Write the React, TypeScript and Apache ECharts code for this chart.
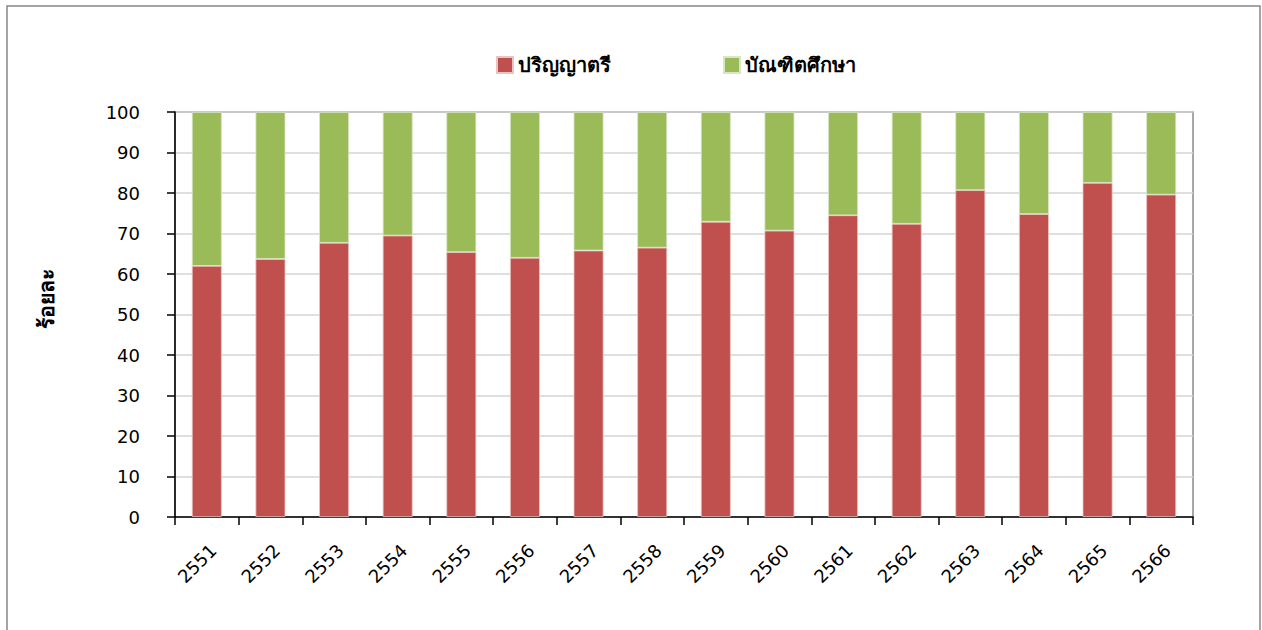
import React, { useEffect, useRef } from "react";
import * as echarts from "echarts";

const years = ["2551","2552","2553","2554","2555","2556","2557","2558","2559","2560","2561","2562","2563","2564","2565","2566"];
const bachelor = [62.0, 63.7, 67.7, 69.5, 65.4, 64.0, 65.8, 66.5, 72.9, 70.7, 74.5, 72.4, 80.7, 74.8, 82.5, 79.6];
const graduate = [38.0, 36.3, 32.3, 30.5, 34.6, 36.0, 34.2, 33.5, 27.1, 29.3, 25.5, 27.6, 19.3, 25.2, 17.5, 20.4];
const seriesNames = ["ปริญญาตรี", "บัณฑิตศึกษา"];
const yTicks = { min: 0, max: 100, interval: 10 };

const FONT = "Tahoma, 'DejaVu Sans', 'Noto Sans', sans-serif";

export default function App() {
  const ref = useRef<HTMLDivElement>(null);
  useEffect(() => {
    document.body.style.margin = "0";
    const chart = echarts.init(ref.current!, null, { renderer: "svg" });
    chart.setOption({
      animation: false,
      backgroundColor: "#ffffff",
      textStyle: { fontFamily: FONT },
      graphic: [
        {
          type: "rect",
          shape: { x: 7, y: 6, width: 1253, height: 640 },
          style: { fill: "none", stroke: "#868686", lineWidth: 1.5 },
          silent: true,
        },
        {
          type: "text",
          x: 47,
          y: 299,
          rotation: Math.PI / 2,
          style: {
            text: "ร้อยละ",
            fontFamily: FONT,
            fontSize: 21,
            fontWeight: "bold",
            fill: "#000",
            align: "center",
            verticalAlign: "middle",
          },
        },
      ],
      legend: {
        data: seriesNames,
        left: 491,
        top: 50,
        itemWidth: 16,
        itemHeight: 16,
        itemGap: 112,
        icon: "rect",
        textStyle: { fontFamily: FONT, fontSize: 20, fontWeight: "bold", color: "#000" },
      },
      grid: {
        left: 175,
        right: 69,
        top: 112,
        bottom: 113,
        show: true,
        borderColor: "#8a8a8a",
        borderWidth: 1.5,
        backgroundColor: "transparent",
      },
      xAxis: {
        type: "category",
        data: years,
        axisLine: { lineStyle: { color: "#000", width: 1.5 } },
        axisTick: { show: true, length: 8, lineStyle: { color: "#000", width: 1.5 } },
        axisLabel: {
          rotate: 45,
          fontSize: 18,
          color: "#000",
          fontFamily: FONT,
          margin: 24,
          interval: 0,
          verticalAlign: "top",
          padding: [0, 0, 0, 0],
        },
      },
      yAxis: {
        type: "value",
        min: yTicks.min,
        max: yTicks.max,
        interval: yTicks.interval,
        axisLine: { show: true, lineStyle: { color: "#000", width: 1.5 } },
        axisTick: { show: true, length: 8, lineStyle: { color: "#000", width: 1.5 } },
        splitLine: { show: true, lineStyle: { color: "#d4d4d4", width: 1.5 } },
        axisLabel: { fontSize: 18, color: "#000", fontFamily: FONT, margin: 35 },
      },
      series: [
        {
          name: seriesNames[0],
          type: "bar",
          stack: "total",
          data: bachelor,
          barWidth: "47%",
          itemStyle: { color: "#C0504D", borderColor: "#e8c4c4", borderWidth: 0.8 },
        },
        {
          name: seriesNames[1],
          type: "bar",
          stack: "total",
          data: graduate,
          barWidth: "47%",
          itemStyle: { color: "#9BBB59", borderColor: "#d8e6c4", borderWidth: 0.8 },
        },
      ],
    });
    return () => chart.dispose();
  }, []);
  return <div ref={ref} style={{ width: 1262, height: 630 }} />;
}
